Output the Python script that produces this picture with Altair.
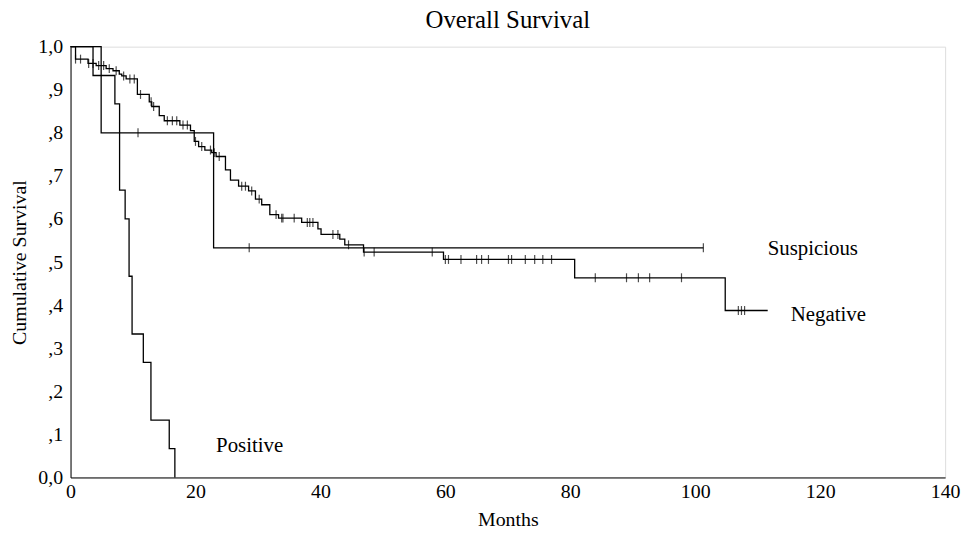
import altair as alt
import pandas as pd

# Kaplan-Meier step data (months, cumulative survival after the step)
neg_times = [0, 0.8, 2.8, 4.1, 5.7, 6.8, 7.8, 8.2, 8.9, 10.7, 12.6, 13.0, 14.2, 15.0, 17.5, 19.2,
             19.8, 20.5, 21.5, 22.6, 23.3, 24.8, 25.6, 26.9, 28.5, 29.6, 30.6, 31.9, 33.3, 37.0,
             39.6, 40.1, 43.1, 43.9, 46.9, 59.7, 80.7, 104.8, 111.6]
neg_surv = [1.0, 0.971, 0.961, 0.956, 0.949, 0.944, 0.936, 0.932, 0.925, 0.889, 0.872, 0.861, 0.840,
            0.828, 0.818, 0.805, 0.780, 0.768, 0.760, 0.754, 0.745, 0.714, 0.690, 0.676, 0.665,
            0.646, 0.633, 0.610, 0.602, 0.592, 0.577, 0.564, 0.553, 0.540, 0.523, 0.506, 0.4635,
            0.3875, 0.3875]
neg_censor = [0.8, 1.6, 2.9, 3.6, 4.5, 5.3, 6.2, 7.3, 8.5, 9.5, 10.2, 11.2, 12.9, 13.3, 15.5, 16.3,
              17.0, 18.0, 18.7, 20.0, 21.0, 22.4, 23.0, 23.8, 27.4, 28.0, 29.0, 30.2, 32.9, 33.8,
              34.0, 35.8, 37.9, 38.3, 38.8, 42.0, 42.8, 44.5, 47.0, 48.6, 57.9, 60.0, 60.5, 62.5,
              65.0, 65.8, 66.9, 70.1, 70.6, 72.8, 74.3, 75.6, 77.0, 84.0, 89.0, 90.9, 92.7, 97.8,
              106.9, 107.4, 107.9]

sus_times = [0, 4.9, 22.9, 101.3]
sus_surv = [1.0, 0.80, 0.533, 0.533]
sus_censor = [10.8, 28.6, 101.3]

pos_times = [0, 3.6, 7.1, 7.85, 8.74, 9.37, 9.85, 11.65, 12.87, 15.8, 16.7]
pos_surv = [1.0, 0.933, 0.867, 0.667, 0.600, 0.467, 0.333, 0.267, 0.133, 0.067, 0.0]

labels = ["Suspicious", "Negative", "Positive"]
label_x = [111.6, 115.3, 23.3]
label_y = [0.531, 0.378, 0.074]


def surv_at(times, surv, t):
    v = surv[0]
    for ti, si in zip(times, surv):
        if ti <= t:
            v = si
    return v


lines = pd.concat([
    pd.DataFrame({"group": "Negative", "t": neg_times, "s": neg_surv}),
    pd.DataFrame({"group": "Suspicious", "t": sus_times, "s": sus_surv}),
    pd.DataFrame({"group": "Positive", "t": pos_times, "s": pos_surv}),
])

censors = pd.concat([
    pd.DataFrame({"group": "Negative", "t": neg_censor,
                  "s": [surv_at(neg_times, neg_surv, c) for c in neg_censor]}),
    pd.DataFrame({"group": "Suspicious", "t": sus_censor,
                  "s": [surv_at(sus_times, sus_surv, c) for c in sus_censor]}),
])

lab = pd.DataFrame({"label": labels, "t": label_x, "s": label_y})

font = "Liberation Serif"

x_scale = alt.Scale(domain=[0, 140], nice=False, zero=False)
y_scale = alt.Scale(domain=[0, 1], nice=False)

y_label_expr = ("datum.value == 0 ? '0,0' : (datum.value == 1 ? '1,0' : "
                "',' + format(round(datum.value * 10), 'd'))")

x_axis = alt.Axis(title="Months", values=list(range(0, 141, 20)), ticks=False, grid=False,
                  labelFont=font, labelFontSize=20, titleFont=font, titleFontSize=20,
                  titleFontWeight="normal", labelColor="black", titleColor="black",
                  domainColor="black", labelPadding=4, titlePadding=8, labelFlush=False)
y_axis = alt.Axis(title="Cumulative Survival", values=[i / 10 for i in range(11)], ticks=False,
                  grid=False, labelExpr=y_label_expr, labelFont=font, labelFontSize=20,
                  titleFont=font, titleFontSize=20, titleFontWeight="normal",
                  labelColor="black", titleColor="black", domainColor="black",
                  labelPadding=8, titlePadding=8, labelFlush=False)

line_layer = alt.Chart(lines).mark_line(interpolate="step-after", color="black",
                                        strokeWidth=1.3).encode(
    x=alt.X("t:Q", scale=x_scale, axis=x_axis),
    y=alt.Y("s:Q", scale=y_scale, axis=y_axis),
    detail="group:N",
    order="t:Q",
)

censor_layer = alt.Chart(censors).mark_tick(orient="vertical", size=9, thickness=1.2,
                                            color="black").encode(
    x=alt.X("t:Q", scale=x_scale),
    y=alt.Y("s:Q", scale=y_scale),
)

text_layer = alt.Chart(lab).mark_text(align="left", baseline="middle", font=font,
                                      fontSize=21, color="black").encode(
    x=alt.X("t:Q", scale=x_scale),
    y=alt.Y("s:Q", scale=y_scale),
    text="label:N",
)

chart = alt.layer(line_layer, censor_layer, text_layer).properties(
    width=881,
    height=434,
    title=alt.TitleParams("Overall Survival", font=font, fontSize=25, fontWeight="normal",
                          color="black", anchor="middle", offset=4),
    autosize=alt.AutoSizeParams(type="none"),
    padding={"left": 63, "top": 37, "right": 16, "bottom": 50},
).configure_view(stroke="#333", strokeWidth=1.2).configure(background="white")

chart.save("out.html", embed_options={"renderer": "svg", "actions": False})
